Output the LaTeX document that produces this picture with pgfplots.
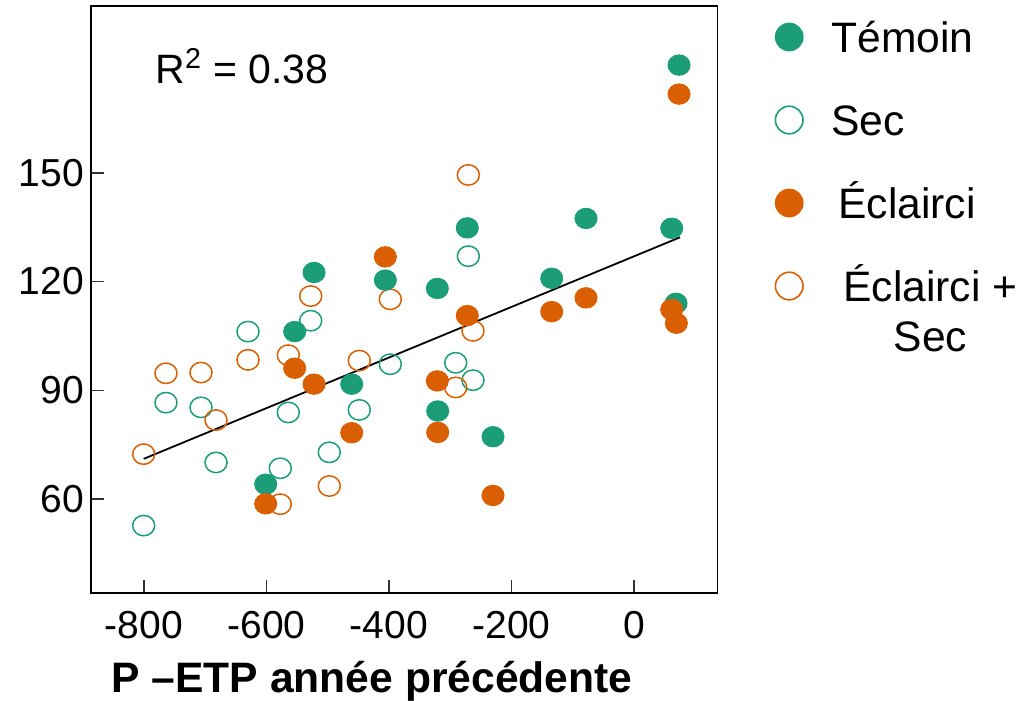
\documentclass[border=0pt]{standalone}
\usepackage{pgfplots}
\pgfplotsset{compat=1.18}
\usepackage{pgfplotstable}
\usepackage{fontspec}
\setmainfont{Liberation Sans}
\definecolor{tgreen}{HTML}{1B9E77}
\definecolor{torange}{HTML}{D95F02}

\pgfplotstableread{
x y
73.5 179.7
61.5 134.7
68.6 114.0
-78.4 137.4
-134.4 120.9
-272.2 134.8
-321.1 118.1
-320.5 84.3
-230.2 77.2
-406 120.4
-522.4 122.5
-554 106.2
-460.9 91.7
-601.3 64.1
}\temoin

\pgfplotstableread{
x y
-270.5 127.0
-527.8 109.2
-630.2 106.2
-764.1 86.6
-706.9 85.3
-682.4 70.1
-800.5 52.7
-564.4 83.9
-577.5 68.5
-448.5 84.6
-497.5 72.9
-397.9 97.2
-291.1 97.6
-262.9 92.8
}\sec

\pgfplotstableread{
x y
73.5 171.7
61.5 112.3
69.1 108.5
-78.4 115.5
-134.4 111.7
-272.2 110.6
-406 126.8
-554 96.1
-522.4 91.7
-321.1 92.6
-320.5 78.4
-460.9 78.3
-230.2 61.0
-601.3 58.7
}\eclairci

\pgfplotstableread{
x y
-270.5 149.4
-527.8 116.0
-397.9 115.1
-262.9 106.4
-630.2 98.4
-564.4 99.7
-448.5 98.2
-764.1 94.7
-706.9 94.9
-682.4 81.8
-800.5 72.4
-291.1 90.8
-497.5 63.6
-577.5 58.6
}\eclsec

\begin{document}
\begin{tikzpicture}
\useasboundingbox (-45.5pt,-54pt) rectangle (468.5pt,296.5pt);
\begin{axis}[
  scale only axis, width=313.25pt, height=293.5pt,
  xmin=-886.5, xmax=136.3, ymin=34.1, ymax=196,
  axis line style={line width=0.8pt},
  xtick={-800,-600,-400,-200,0}, xticklabels={-800,-600,-400,-200,0},
  ytick={60,90,120,150}, yticklabels={60,90,120,150},
  tick pos=left, tick align=inside, major tick length=6.5pt,
  tick style={line width=0.8pt, black!80},
  ticklabel style={font=\fontsize{19.5}{23}\selectfont},
  xticklabel style={yshift=-5.5pt},
  xlabel={P –ETP année précédente},
  xlabel style={font=\bfseries\fontsize{21.3}{25}\selectfont, at={(axis description cs:0.4485,0)}, anchor=base, yshift=-49.5pt},
  legend image code/.code={\draw[#1] plot coordinates {(0pt,0pt)};},
  legend cell align=left,
  legend style={draw=none, fill=none, inner sep=0pt, outer sep=0pt,
    at={(axis description cs:1.0924,0.9727)}, anchor=north west,
    row sep=26.5pt, column sep=14.2pt,
    font=\fontsize{21.3}{25}\selectfont,
    nodes={inner sep=0pt, text height=15pt, text depth=0pt}},
  clip=false,
]
\addlegendimage{only marks, mark=*, mark size=6.9pt, mark options={fill=tgreen, draw=tgreen, line width=0.6pt}}
\addlegendentry{Témoin}
\addlegendimage{only marks, mark=o, mark size=6.9pt, mark options={draw=tgreen, line width=0.8pt}}
\addlegendentry{Sec}
\addlegendimage{only marks, mark=*, mark size=6.9pt, mark options={fill=torange, draw=torange, line width=0.6pt}}
\addlegendentry{\hspace{3.5pt}Éclairci}
\addlegendimage{only marks, mark=o, mark size=6.9pt, mark options={draw=torange, line width=0.8pt}}
\addlegendentry{\hspace{6pt}\begin{tabular}[t]{@{}c@{}}Éclairci +\\Sec\end{tabular}}

\addplot[forget plot, only marks, mark=o, mark size=5.1pt, mark options={draw=tgreen, line width=0.75pt, xscale=1.08}] table[x=x,y=y] {\sec};
\addplot[forget plot, only marks, mark=o, mark size=5.1pt, mark options={draw=torange, line width=0.75pt, xscale=1.08}] table[x=x,y=y] {\eclsec};
\addplot[forget plot, only marks, mark=*, mark size=5.1pt, mark options={fill=tgreen, draw=tgreen, line width=0.5pt, xscale=1.08}] table[x=x,y=y] {\temoin};
\addplot[forget plot, only marks, mark=*, mark size=5.1pt, mark options={fill=torange, draw=torange, line width=0.5pt, xscale=1.08}] table[x=x,y=y] {\eclairci};
\addplot[forget plot, black, line width=0.9pt] coordinates {(-800.5,71.1) (75.1,132.2)};

\node[anchor=base west, font=\fontsize{20.5}{24}\selectfont, inner sep=0pt] at (axis cs:-782,174.7) {R\textsuperscript{2} = 0.38};
\end{axis}
\end{tikzpicture}
\end{document}
